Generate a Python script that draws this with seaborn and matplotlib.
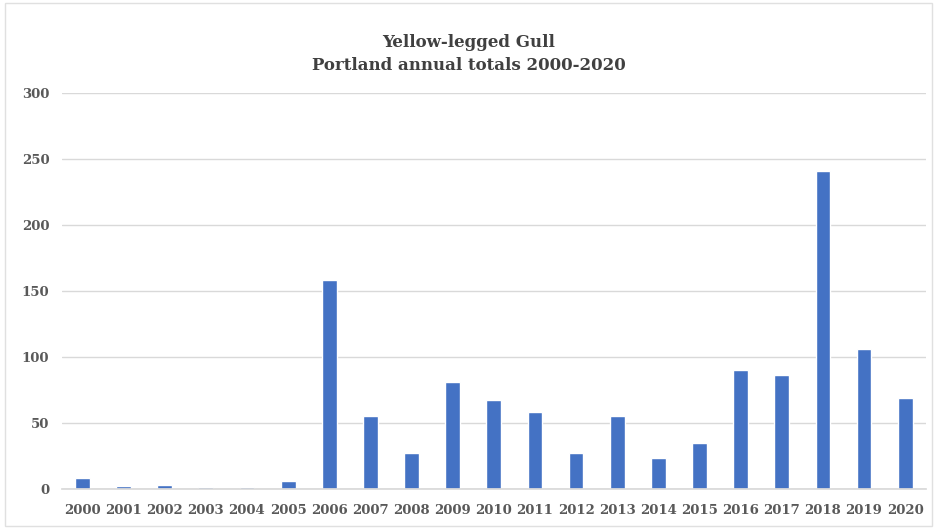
import matplotlib
matplotlib.use("Agg")
import matplotlib.pyplot as plt
import seaborn as sns
import pandas as pd

years = [str(y) for y in range(2000, 2021)]
totals = [8, 2, 3, 1, 1, 6, 158, 55, 27, 81, 67, 58, 27, 55, 23, 35, 90, 86, 241, 106, 69]

sns.set_theme(style="white")
plt.rcParams['font.family'] = ['DejaVu Sans']

df = pd.DataFrame({"year": years, "total": totals})

fig = plt.figure(figsize=(9.37, 5.29), dpi=100)
ax = fig.add_axes([0.066, 0.076, 0.922, 0.748])
sns.barplot(data=df, x="year", y="total", color="#4472C4", saturation=1, width=0.36, ax=ax)

ax.set_ylim(0, 300)
ax.set_yticks(range(0, 301, 50))
ax.yaxis.grid(True, color="#D9D9D9", linewidth=1)
ax.set_axisbelow(True)
for s in ["top", "right", "left"]:
    ax.spines[s].set_visible(False)
ax.spines["bottom"].set_color("#D9D9D9")
ax.set_xlabel("")
ax.set_ylabel("")
ax.tick_params(axis="both", length=0, colors="#595959", labelsize=9.5)
ax.tick_params(axis="y", pad=9)
ax.tick_params(axis="x", pad=11)
for lbl in ax.get_xticklabels() + ax.get_yticklabels():
    lbl.set_fontweight("bold")
    lbl.set_fontfamily("DejaVu Serif")
ax.set_xlim(-0.5, 20.5)

fig.text(0.5, 0.898, "Yellow-legged Gull\nPortland annual totals 2000-2020", ha="center", va="center",
         fontsize=12, fontweight="bold", color="#404040", family="DejaVu Serif", linespacing=1.45)

# light frame around the chart
fig.patches.append(plt.Rectangle((0.005, 0.005), 0.99, 0.99, transform=fig.transFigure,
                                 fill=False, edgecolor="#E0E0E0", linewidth=1))

fig.savefig("out.png", dpi=100)
